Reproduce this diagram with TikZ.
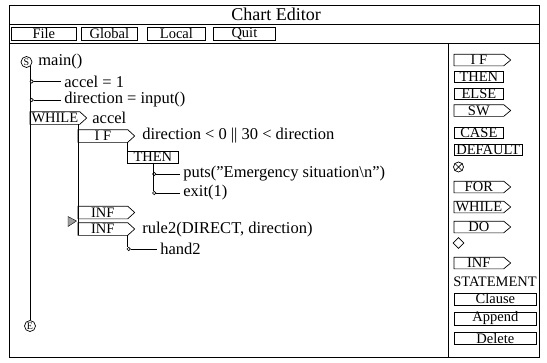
\documentclass[tikz,border=0pt]{standalone}
\usepackage{fontspec}
\setmainfont{Liberation Serif}
\usetikzlibrary{calc, positioning, shapes.geometric}
\tikzset{
  font=\fontsize{14.5}{16}\selectfont,
  % Window frame lines
  frame/.style={line width=0.8pt},
  % Menu button
  menubtn/.style={draw, line width=0.8pt, minimum height=13pt, inner sep=0pt,
    anchor=west},
  % Body of a tag, the tip is added by \tagbox
  tagbody/.style={minimum width=49pt, minimum height=12pt, inner sep=0pt,
    anchor=west},
  % Plain box
  plainbox/.style={draw, minimum width=49pt, minimum height=11pt, inner
    xsep=2pt, inner ysep=0pt, anchor=west},
  % Wide button of the palette
  wideb/.style={plainbox, minimum width=82pt, minimum height=12pt},
  % Start and end marks
  endmark/.style={draw, circle, minimum size=11pt, inner sep=0pt,
    font=\fontsize{10}{10}\selectfont},
  % Statement stub
  stub/.style={draw, circle, fill=white, minimum size=3.4pt, inner sep=0pt},
  % Statement text
  stmt/.style={anchor=west, inner xsep=3pt, inner ysep=0pt,
    font=\fontsize{16.5}{18}\selectfont},
}
% tag with a pointed right end
\newcommand\tagbox[4][12pt]{%
  \node[tagbody, minimum height=#1] (#2) at (#3) {#4};
  \draw (#2.north west) -- (#2.north east) -- ([xshift=7pt]#2.east)
    -- (#2.south east) -- (#2.south west) -- cycle;}

\begin{document}
\begin{tikzpicture}[x=1pt, y=-1pt, line width=0.7pt]
  \useasboundingbox (0,0) rectangle (547,362);

  % window
  \draw[frame] (9,5) rectangle (539,357);
  \draw[frame] (9,24) -- (539,24);
  \draw[frame] (9,43) -- (539,43);
  \draw[frame] (448,43) -- (448,357);
  \node[font=\fontsize{18}{20}\selectfont] (title) at (276,14.5) {Chart Editor};

  % menu
  \node[menubtn, minimum width=65pt] (file) at (11,33.5) {File};
  \node[menubtn, minimum width=56pt] (global) at (81,33.5) {Global};
  \node[menubtn, minimum width=58pt] (local) at (147,33.5) {Local};
  \node[menubtn, minimum width=62pt] (quit) at (213,33.5) {Quit};

  % palette
  \tagbox[11pt]{pif}{454,60}{I F}
  \node[plainbox] (pthen) at (454,77) {THEN};
  \node[plainbox] (pelse) at (454,93.5) {ELSE};
  \tagbox[11pt]{psw}{454,110.5}{SW}
  \node[plainbox] (pcase) at (454,133) {CASE};
  \node[plainbox] (pdefault) at (454,150) {DEFAULT};
  \node[draw, circle, minimum size=10pt, inner sep=0pt] (pjoin) at (458.5,167) {};
  \draw (pjoin.45) -- (pjoin.225) (pjoin.135) -- (pjoin.-45);
  \tagbox[11pt]{pfor}{454,187}{FOR}
  \tagbox[11pt]{pwhile}{454,207}{WHILE}
  \tagbox[11pt]{pdo}{454,227}{DO}
  \node[draw, diamond, minimum size=11pt, inner sep=0pt] (pcond) at (458.5,243) {};
  \tagbox[11pt]{pinf}{454,263}{INF}
  \node (pstmt) at (495,282) {STATEMENT};
  \node[wideb] (clause) at (454,299) {Clause};
  \node[wideb] (append) at (454,318.5) {Append};
  \node[wideb] (delete) at (454,338.5) {Delete};

  % chart
  \node[endmark] (start) at (26.5,62) {S};
  \node[stmt] (main) at (35,62) {main()};
  \node[endmark] (stop) at (30,326) {E};
  \draw (start.-50) -- (start.-50 |- stop.north);

  \node[stub] (s1) at (31.7,81.5) {};
  \node[stmt] (accel) at (61,81.5) {accel = 1};
  \draw (s1) -- (accel);
  \node[stub] (s2) at (31.7,100) {};
  \node[stmt] (dir) at (61,100) {direction = input()};
  \draw (s2) -- (dir);

  \tagbox{whilebox}{30,118}{WHILE}
  \node[stmt] (wcond) at (89,118) {accel};
  \tagbox{ifbox}{78,136}{I F}
  \node[stmt] (ifcond) at (139,136) {direction < 0 || 30 < direction};

  \node[plainbox, minimum width=51pt, minimum height=12pt] (thenbox) at (127,157) {THEN};
  \draw (thenbox.north west |- ifbox.south) -- (thenbox.north west);
  \node[stub] (s3) at (154.2,174) {};
  \node[stmt] (puts) at (180,174) {puts("Emergency situation\textbackslash n")};
  \draw (s3) -- (puts);
  \node[stub] (s4) at (154.2,193) {};
  \node[stmt] (exit) at (180,193) {exit(1)};
  \draw (s4) -- (exit);
  \draw (thenbox.south) -- (thenbox.south |- s4.north);

  \tagbox{inf1}{78,212.5}{INF}
  \tagbox{inf2}{78,229}{INF}
  \draw (ifbox.west |- whilebox.south) -- (inf2.south west);
  \fill[gray!75, draw=black, line width=0.4pt] (68,216.5) -- (76.5,221) -- (68,226.5) -- cycle;
  \node[stmt] (rule) at (139,230) {rule2(DIRECT, direction)};
  \node[stub] (s5) at (128.7,249) {};
  \node[stmt] (hand) at (157,249) {hand2};
  \draw (s5) -- (hand);
  \draw (inf2.south east) -- (inf2.south east |- s5.north);
\end{tikzpicture}
\end{document}
